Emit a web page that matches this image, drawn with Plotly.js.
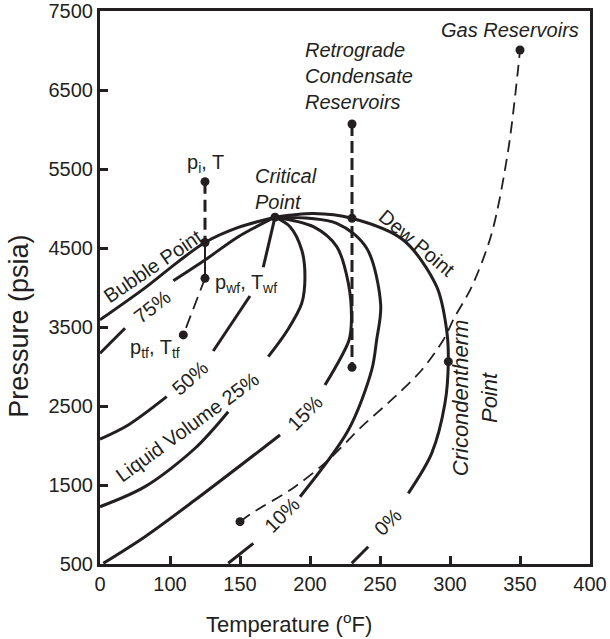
<!DOCTYPE html>
<html><head><meta charset="utf-8">
<script src="https://cdn.plot.ly/plotly-3.0.1.min.js"></script>
<style>html,body{margin:0;padding:0;background:#fff}</style>
</head><body>
<div id="chart" style="width:610px;height:639px"></div>
<script>
const INK = '#231f20';

// Axis ticks (temperature axis is compressed between 0 and 100 °F)
const tempTicks = [0, 100, 150, 200, 250, 300, 350, 400];
const tempTickLabels = ['0', '100', '150', '200', '250', '300', '350', '400'];
const presTicks = [500, 1500, 2500, 3500, 4500, 5500, 6500, 7500];

// Phase envelope & liquid-volume lines: temperature (°F), pressure (psia); null = label gap
const bubbleT = [0, 64.3, 105.7, 125, 148.8, 175];
const bubbleP = [3590, 3995, 4325, 4570, 4760, 4890];

const liq75T = [0, 35.7, null, 102.4, 125, 148.8, 175];
const liq75P = [3167, 3484, null, 4086, 4348, 4643, 4890];

const liq50T = [0, 40.4, 95.3, null, 130.9, 157.1, null, 166.6, 175];
const liq50P = [2080, 2260, 2618, null, 3196, 3892, null, 4256, 4890];

const liq25T = [0, 64.3, 117.9, 141.6, null, 170.2, 184, 194.1, 196.4, 194.1, 185.7, 175];
const liq25P = [1225, 1479, 1965, 2428, null, 3124, 3462, 3800, 4137, 4475, 4770, 4890];

const liq15T = [4.7, 64.3, 117.9, 178.6, null, 210.7, 227.9, 229.6, 227.4, 219.1, 202.4, 175];
const liq15P = [509, 846, 1310, 2133, null, 2766, 3336, 3589, 4053, 4517, 4770, 4890];

const liq10T = [141.6, 159.5, null, 192.9, 227.4, 244.1, 247.6, 250.5, 240.5, 219.1, 175];
const liq10P = [509, 762, null, 1352, 2196, 2956, 3336, 3780, 4496, 4813, 4890];

const dewT = [229.8, 241.6, null, 270.2, 286.9, 296.4, 298.8, 297.6, 290.5, 266.6, 229.8, 202.4, 175];
const dewP = [509, 719, null, 1395, 1901, 2534, 3061, 3462, 4010, 4601, 4876, 4937, 4890];

// Reservoir paths
const gasT = [150, 158.4, 189.3, 213.1, 236.9, 260.7, 279.8, 295.2, 303, 315.5, 329.8, 341.6, 348.8, 350];
const gasP = [1036, 1142, 1479, 1817, 2238, 2618, 2956, 3336, 3614, 4010, 4686, 5741, 6795, 7006];

const retroT = [230, 230];
const retroP = [6070, 2990];

const oilUpperT = [125, 125];          // p_i down to bubble point
const oilUpperP = [5340, 4570];
const oilWellT = [125, 125];           // bubble point to p_wf
const oilWellP = [4570, 4116];
const oilTubingT = [125, 109.5];       // p_wf to p_tf
const oilTubingP = [4116, 3400];

// Marked points
const dotT = [125, 125, 125, 109.5, 175, 230, 230, 230, 350, 150, 298.8];
const dotP = [5340, 4570, 4116, 3400, 4890, 6070, 4876, 2990, 7006, 1036, 3061];

// compressed temperature axis: 0..100 occupies half the width of a 50 °F step
function ax(t) { return t === null ? null : (t < 100 ? 50 + t / 2 : t); }

function line(T, P, width, dash) {
  return {x: T.map(ax), y: P, type: 'scatter', mode: 'lines', connectgaps: false,
    hoverinfo: 'skip',
    line: {color: INK, width: width, dash: dash || 'solid', shape: 'spline', smoothing: 0.9}};
}

const traces = [
  line(bubbleT, bubbleP, 3),
  line(liq75T, liq75P, 3),
  line(liq50T, liq50P, 3),
  line(liq25T, liq25P, 3),
  line(liq15T, liq15P, 3),
  line(liq10T, liq10P, 3),
  line(dewT, dewP, 3),
  line(gasT, gasP, 1.8, '12px,7px'),
  line(retroT, retroP, 3, '12px,5px'),
  line(oilUpperT, oilUpperP, 3, '12px,6px'),
  line(oilWellT, oilWellP, 2),
  line(oilTubingT, oilTubingP, 1.8, '13px,7px'),
  {x: dotT.map(ax), y: dotP, type: 'scatter', mode: 'markers', hoverinfo: 'skip',
   marker: {color: INK, size: 9}}
];

const F = 20;
function ann(x, y, text, opts) {
  return Object.assign({x: x, y: y, xref: 'x', yref: 'y', text: text, showarrow: false,
    font: {size: F, color: INK}, xanchor: 'center', yanchor: 'middle'}, opts || {});
}

const annotations = [
  ann(343, 7260, '<i>Gas Reservoirs</i>'),
  ann(195, 6677, '<i>Retrograde<br>Condensate<br>Reservoirs</i>', {xanchor: 'left', align: 'left'}),
  ann(159.3, 5253, '<i>Critical<br>Point</i>', {xanchor: 'left', align: 'left'}),
  ann(110.7, 5576, 'p<sub>i</sub>, T', {xanchor: 'left'}),
  ann(130.7, 4057, 'p<sub>wf</sub>, T<sub>wf</sub>', {xanchor: 'left'}),
  ann(70, 3234, 'p<sub>tf</sub>, T<sub>tf</sub>', {xanchor: 'left'}),
  ann(87.9, 4272, 'Bubble Point', {textangle: -34}),
  ann(86.9, 3757, '75%', {textangle: -38}),
  ann(114.3, 2855, '50%', {textangle: -42}),
  ann(112.5, 2228, 'Liquid Volume 25%', {textangle: -36}),
  ann(196.4, 2412, '15%', {textangle: -45}),
  ann(179.8, 1120, '10%', {textangle: -45}),
  ann(255.4, 1038, '0%', {textangle: -45}),
  ann(276.2, 4560, 'Dew Point', {textangle: 40}),
  ann(318, 2601, '<i>Cricondentherm<br>Point</i>', {textangle: -90, font: {size: 22, color: INK}}),
  ann(0.386, -0.107, 'Temperature (<sup>o</sup>F)', {xref: 'paper', yref: 'paper', font: {size: 22, color: INK}}),
  ann(-0.165, 0.4295, 'Pressure (psia)', {xref: 'paper', yref: 'paper', textangle: -90, font: {size: 27, color: INK}})
];

const axisCommon = {
  ticks: 'inside', ticklen: 8, tickwidth: 3, tickcolor: INK,
  showline: true, linewidth: 3, linecolor: INK, mirror: true,
  showgrid: false, zeroline: false, tickfont: {size: F, color: INK}, fixedrange: true
};

const layout = {
  width: 610, height: 639,
  margin: {l: 100, r: 20, t: 11, b: 75},
  paper_bgcolor: '#fff', plot_bgcolor: '#fff',
  showlegend: false,
  font: {family: 'Arial, "Liberation Sans", sans-serif', size: F, color: INK},
  xaxis: Object.assign({range: [50, 400], tickmode: 'array', tickvals: tempTicks.map(ax), ticktext: tempTickLabels}, axisCommon),
  yaxis: Object.assign({range: [500, 7500], tickmode: 'array', tickvals: presTicks, ticktext: presTicks.map(String)}, axisCommon),
  annotations: annotations
};

Plotly.newPlot('chart', traces, layout, {displayModeBar: false, staticPlot: true});
</script>
</body></html>
